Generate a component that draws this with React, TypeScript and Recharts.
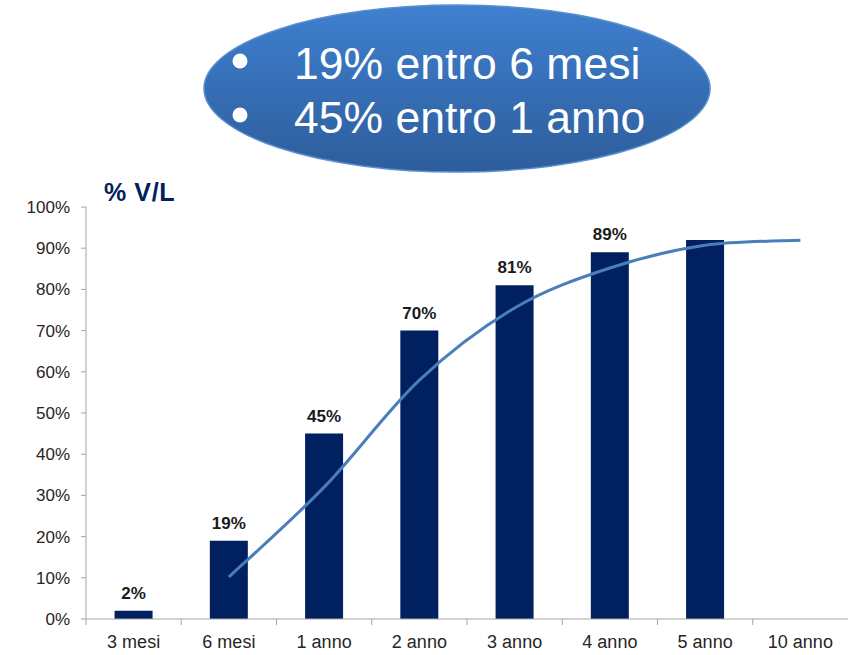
import React from 'react';
import { ComposedChart, Bar, Line, XAxis, YAxis, LabelList } from 'recharts';

const categories = ['3 mesi', '6 mesi', '1 anno', '2 anno', '3 anno', '4 anno', '5 anno', '10 anno'];
const barValues: (number | null)[] = [2, 19, 45, 70, 81, 89, 92, null];
const barLabels = ['2%', '19%', '45%', '70%', '81%', '89%', '', ''];
const curveValues: (number | null)[] = [null, 10.2, 32, 58, 75.5, 85.2, 90.7, 91.9];
const yTicks = [0, 10, 20, 30, 40, 50, 60, 70, 80, 90, 100];
const calloutLines = ['19% entro 6 mesi', '45% entro 1 anno'];

const data = categories.map((c, i) => ({
  cat: c,
  bar: barValues[i],
  curve: curveValues[i],
  label: barLabels[i],
}));

const FONT = 'Arial, "Liberation Sans", sans-serif';
const WIDTH = 849;
const HEIGHT = 655;
const MARGIN = { top: 207, right: 1, bottom: 0, left: 0 };
const Y_AXIS_W = 86;
const X_AXIS_H = 36;
const BAND = (WIDTH - MARGIN.right - MARGIN.left - Y_AXIS_W) / categories.length;

// Catmull-Rom style smoothing (similar to spreadsheet "smoothed line")
const smoothCurve = (context: any) => {
  let pts: [number, number][] = [];
  return {
    areaStart() {},
    areaEnd() {},
    lineStart() {
      pts = [];
    },
    point(x: number, y: number) {
      pts.push([+x, +y]);
    },
    lineEnd() {
      if (!pts.length) return;
      context.moveTo(pts[0][0], pts[0][1]);
      for (let i = 0; i < pts.length - 1; i++) {
        const p0 = pts[Math.max(0, i - 1)];
        const p1 = pts[i];
        const p2 = pts[i + 1];
        const p3 = pts[Math.min(pts.length - 1, i + 2)];
        const c1x = p1[0] + (p2[0] - p0[0]) / 6;
        const c1y = p1[1] + (p2[1] - p0[1]) / 6;
        const c2x = p2[0] - (p3[0] - p1[0]) / 6;
        const c2y = p2[1] - (p3[1] - p1[1]) / 6;
        context.bezierCurveTo(c1x, c1y, c2x, c2y, p2[0], p2[1]);
      }
    },
  };
};

const XTick = (props: any) => {
  const { x, y, payload } = props;
  const bx = x - BAND / 2;
  return (
    <g>
      <line x1={bx} y1={y} x2={bx} y2={y + 6} stroke="#a6a6a6" strokeWidth={1} />
      <text x={x} y={y + 29} textAnchor="middle" fontFamily={FONT} fontSize={18} fill="#262626">
        {payload.value}
      </text>
    </g>
  );
};

const Callout = () => (
  <svg width={WIDTH} height={180} style={{ position: 'absolute', left: 0, top: 0 }}>
    <defs>
      <linearGradient id="ellGrad" x1="0" y1="0" x2="0" y2="1">
        <stop offset="0%" stopColor="#3f80d0" />
        <stop offset="100%" stopColor="#2d5d9b" />
      </linearGradient>
    </defs>
    <ellipse cx={457} cy={88.5} rx={253} ry={83.5} fill="url(#ellGrad)" stroke="#5a8fd0" strokeWidth={1.5} />
    {calloutLines.map((t, i) => (
      <g key={i}>
        <circle cx={240} cy={i === 0 ? 61 : 115} r={7.5} fill="#ffffff" />
        <text x={294} y={i === 0 ? 79 : 133} fontFamily={FONT} fontSize={44.5} fill="#ffffff">
          {t}
        </text>
      </g>
    ))}
  </svg>
);

export default function App() {
  return (
    <div style={{ position: 'absolute', left: 0, top: 0, width: WIDTH, height: HEIGHT, background: '#fff' }}>
      <ComposedChart width={WIDTH} height={HEIGHT} data={data} margin={MARGIN} barCategoryGap="30%">
        <XAxis
          dataKey="cat"
          height={X_AXIS_H}
          axisLine={{ stroke: '#a6a6a6' }}
          tickLine={false}
          tickSize={0}
          tickMargin={0}
          tick={<XTick />}
          interval={0}
        />
        <YAxis
          width={Y_AXIS_W}
          domain={[0, 100]}
          ticks={yTicks}
          interval={0}
          tickFormatter={(v: number) => `${v}%`}
          axisLine={{ stroke: '#a6a6a6' }}
          tickLine={{ stroke: '#a6a6a6' }}
          tickSize={5}
          tickMargin={11}
          tick={{ fontFamily: FONT, fontSize: 17, fill: '#262626' }}
        />
        <Bar dataKey="bar" fill="#002060" isAnimationActive={false}>
          <LabelList
            dataKey="label"
            position="top"
            offset={12}
            style={{ fontFamily: FONT, fontSize: 17, fontWeight: 'bold', fill: '#1a1a1a' }}
          />
        </Bar>
        <Line
          dataKey="curve"
          type={smoothCurve as any}
          stroke="#4a7ebb"
          strokeWidth={3}
          dot={false}
          activeDot={false}
          connectNulls
          isAnimationActive={false}
        />
        <text x={104} y={201} fontFamily={FONT} fontSize={25} fontWeight="bold" fill="#002060" letterSpacing={0.6}>
          % V/L
        </text>
      </ComposedChart>
      <Callout />
    </div>
  );
}
